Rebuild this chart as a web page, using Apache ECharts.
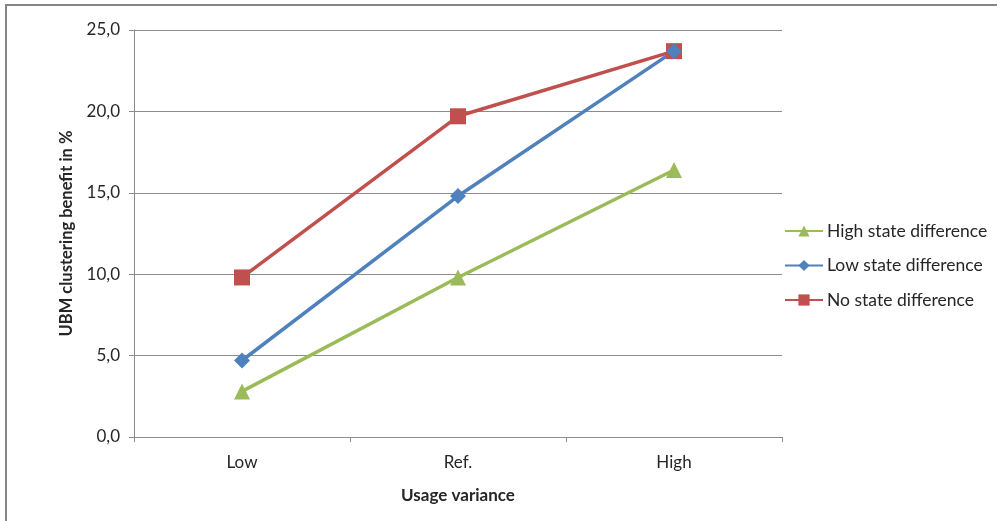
<!DOCTYPE html>
<html>
<head>
<meta charset="utf-8">
<script src="https://cdn.jsdelivr.net/npm/echarts@6/dist/echarts.min.js"></script>
<style>
  html, body { margin: 0; padding: 0; background: #fff; }
  #chart { width: 997px; height: 521px; }
</style>
</head>
<body>
<div id="chart"></div>
<script>
// Usage variance levels on the x axis
const categories = ['Low', 'Ref.', 'High'];

// UBM clustering benefit in % for each state-difference setting
const highStateDiff = [2.8, 9.8, 16.4];
const lowStateDiff = [4.7, 14.8, 23.7];
const noStateDiff = [9.8, 19.7, 23.7];

const yTicks = [0, 5, 10, 15, 20, 25];

const FONT = 'Lato';
const TEXT = '#262626';
const GRID = '#8c8c8c';

const chart = echarts.init(document.getElementById('chart'), null, { renderer: 'canvas' });

function lineSeries(name, data, color, symbol, size) {
  return {
    name: name,
    type: 'line',
    data: data,
    symbol: symbol,
    symbolSize: size,
    showAllSymbol: true,
    lineStyle: { color: color, width: 3.5 },
    itemStyle: { color: color },
    emphasis: { disabled: true },
    animation: false
  };
}

chart.setOption({
  animation: false,
  graphic: [{
    type: 'rect',
    shape: { x: 6, y: 5, width: 1000, height: 530 },
    style: { fill: 'none', stroke: '#868686', lineWidth: 2 },
    silent: true
  }],
  grid: { left: 134, right: 215, top: 30, bottom: 84 },
  legend: {
    orient: 'vertical',
    left: 784,
    top: 222,
    padding: 0,
    itemWidth: 38,
    itemHeight: 14,
    itemGap: 16.5,
    textStyle: { fontFamily: FONT, fontSize: 17.5, color: TEXT, padding: [0, 0, 0, -1] },
    data: ['High state difference', 'Low state difference', 'No state difference']
  },
  xAxis: {
    type: 'category',
    data: categories,
    boundaryGap: true,
    name: 'Usage variance',
    nameLocation: 'middle',
    nameGap: 50,
    nameTextStyle: { fontFamily: FONT, fontSize: 17, fontWeight: 'bold', color: TEXT },
    axisLine: { lineStyle: { color: GRID, width: 1 } },
    axisTick: { show: true, length: 5, lineStyle: { color: GRID } },
    axisLabel: { fontFamily: FONT, fontSize: 17, color: TEXT, margin: 17 }
  },
  yAxis: {
    type: 'value',
    min: 0,
    max: 25,
    interval: 5,
    name: 'UBM clustering benefit in %',
    nameLocation: 'middle',
    nameGap: 59,
    nameRotate: 90,
    nameTextStyle: { fontFamily: FONT, fontSize: 16.5, fontWeight: 'bold', color: TEXT },
    axisLine: { show: true, lineStyle: { color: GRID, width: 1 } },
    axisTick: { show: true, length: 5, lineStyle: { color: GRID } },
    splitLine: { show: true, lineStyle: { color: GRID, width: 1 } },
    axisLabel: {
      fontFamily: FONT, fontSize: 17, color: TEXT, margin: 14,
      formatter: v => yTicks.includes(v) ? v.toFixed(1).replace('.', ',') : ''
    }
  },
  series: [
    lineSeries('No state difference', noStateDiff, '#C0504D', 'rect', 16),
    lineSeries('Low state difference', lowStateDiff, '#4F81BD', 'diamond', 16),
    lineSeries('High state difference', highStateDiff, '#9BBB59', 'triangle', 16)
  ]
});
</script>
</body>
</html>
